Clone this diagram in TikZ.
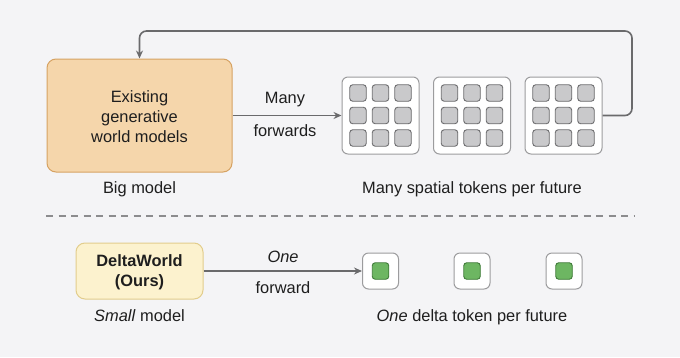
\documentclass[tikz,border=0pt]{standalone}
\usepackage{fontspec}
\setmainfont{Liberation Sans}
\usetikzlibrary{arrows.meta,calc}
\definecolor{bg}{HTML}{F4F4F6}
\definecolor{txt}{HTML}{1E1E1E}
\definecolor{conn}{HTML}{6A6A6C}
\definecolor{bigfill}{HTML}{F5D6AB}
\definecolor{bigdraw}{HTML}{D6A262}
\definecolor{smallfill}{HTML}{FCF2CE}
\definecolor{smalldraw}{HTML}{E2CD8C}
\definecolor{gridfill}{HTML}{FFFFFF}
\definecolor{griddraw}{HTML}{9C9C9E}
\definecolor{cellfill}{HTML}{C9C9CB}
\definecolor{celldraw}{HTML}{6C6C6E}
\definecolor{greenfill}{HTML}{6DB662}
\definecolor{greendraw}{HTML}{3E7A37}
\definecolor{dashcol}{HTML}{8C8C8E}
\tikzset{
  every node/.style={text=txt, font=\fontsize{16.4}{20}\selectfont},
  bigbox/.style={draw=bigdraw, fill=bigfill, line width=1pt, rounded corners=9pt,
    minimum width=185pt, minimum height=113pt, align=center, inner sep=0pt},
  smallbox/.style={draw=smalldraw, fill=smallfill, line width=1pt, rounded corners=9pt,
    minimum width=127pt, minimum height=56pt, align=center, inner sep=0pt},
  gridbox/.style={draw=griddraw, fill=gridfill, line width=1pt, rounded corners=6pt,
    minimum size=77pt, inner sep=0pt},
  cellbox/.style={draw=celldraw, fill=cellfill, line width=0.9pt, rounded corners=3pt,
    minimum size=16.5pt, inner sep=0pt},
  deltabox/.style={draw=griddraw, fill=gridfill, line width=1pt, rounded corners=6pt,
    minimum size=36pt, inner sep=0pt},
  greencell/.style={draw=greendraw, fill=greenfill, line width=0.9pt, rounded corners=3pt,
    minimum size=16.5pt, inner sep=0pt},
  conarrow/.style={draw=conn, line width=1.6pt, -{Stealth[length=8pt,width=7pt]}},
  lbl/.style={inner sep=0pt, anchor=base},
}
\begin{document}
\begin{tikzpicture}[x=1pt,y=-1pt]
\useasboundingbox[fill=bg] (0,0) rectangle (680,357);

% top row
\node[bigbox] (big) at (139.5,115.5) {};
\node[lbl] (t1) at (139.5,102) {Existing};
\node[lbl] (t2) at (139.5,122) {generative};
\node[lbl] (t3) at (139.5,142) {world models};
\node[lbl] (bigl) at (139.5,193) {Big model};

\foreach \i/\cx in {1/380.5, 2/472, 3/563.5}{
  \node[gridbox] (g\i) at (\cx,115.5) {};
  \foreach \r in {-1,0,1}{
    \foreach \c in {-1,0,1}{
      \node[cellbox] at ($(g\i.center)+(22.5*\c,22.5*\r)$) {};
    }
  }
}
\node[lbl] (manyl) at (472,193) {Many spatial tokens per future};

\draw[conarrow] (big.east) -- (g1.west);
\node[lbl] (many) at (285,103) {Many};
\node[lbl] (fw) at (285,136) {forwards};

\coordinate (loopR) at (632,31);
\draw[conarrow, rounded corners=7pt] (g3.east) -| (loopR) -| (big.north);

% separator
\coordinate (dL) at (46,216);
\coordinate (dR) at (634,216);
\draw[dashcol, line width=1.8pt, dash pattern=on 7pt off 5.5pt] (dL) -- (dR);

% bottom row
\node[smallbox] (small) at (139.5,271) {};
\node[lbl, font=\fontsize{16.4}{20}\selectfont\bfseries] (s1) at (139.5,266) {DeltaWorld};
\node[lbl, font=\fontsize{16.4}{20}\selectfont\bfseries] (s2) at (139.5,286) {(Ours)};
\node[lbl] (smalll) at (139.5,321) {\textit{Small} model};

\foreach \i/\cx in {1/380.5, 2/472, 3/564}{
  \node[deltabox] (d\i) at (\cx,271) {};
  \node[greencell] at (d\i.center) {};
}
\node[lbl] (onel) at (472,321) {\textit{One} delta token per future};

\draw[conarrow] (small.east) -- (d1.west);
\node[lbl] (one) at (283,262) {\textit{One}};
\node[lbl] (fw2) at (283,293) {forward};
\end{tikzpicture}
\end{document}
